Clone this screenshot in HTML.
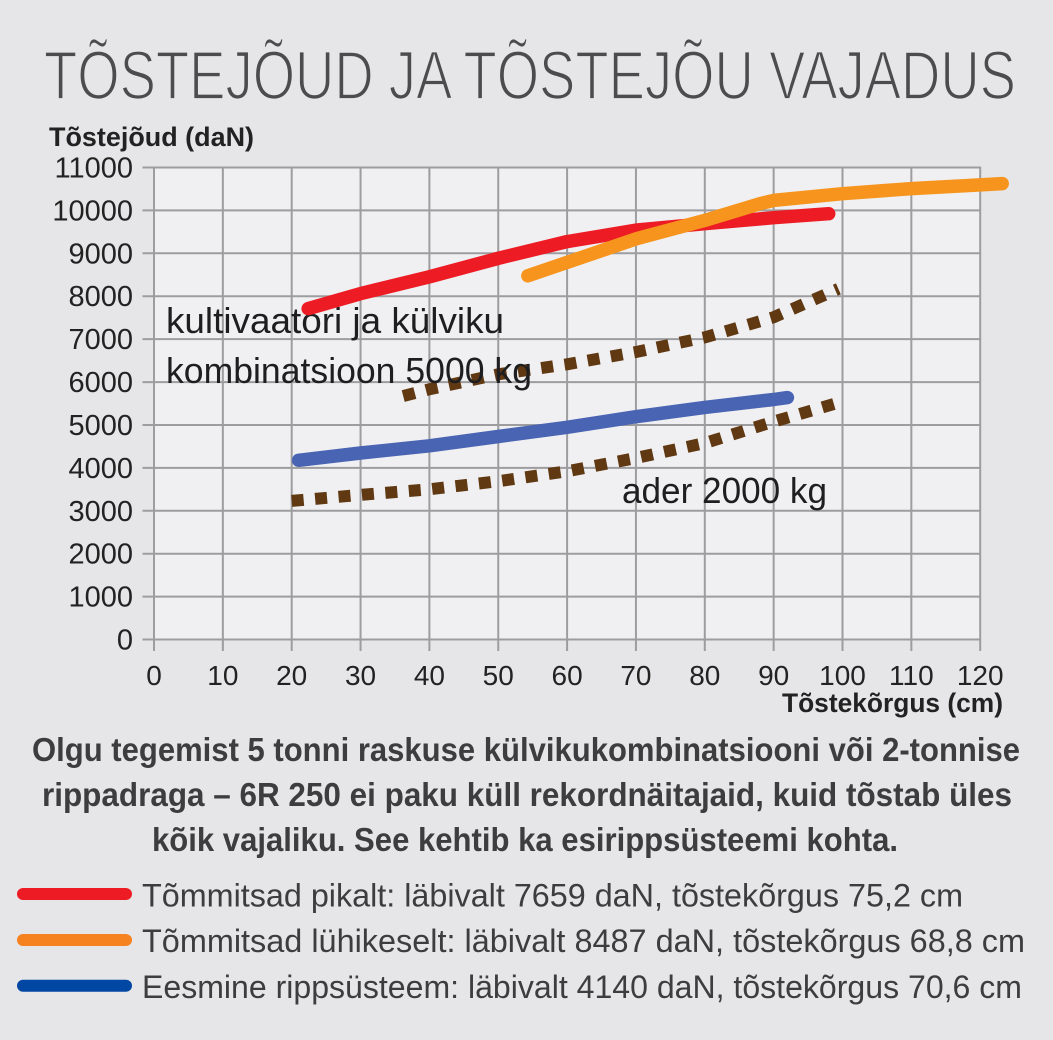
<!DOCTYPE html>
<html><head><meta charset="utf-8"><style>
html,body{margin:0;padding:0;background:#e6e6e8;}
svg{display:block;}
text{font-family:"Liberation Sans",sans-serif;}
</style></head><body>
<svg width="1053" height="1040" viewBox="0 0 1053 1040" xmlns="http://www.w3.org/2000/svg">
<rect x="0" y="0" width="1053" height="1040" fill="#e6e6e8"/>
<text x="44" y="99" font-size="69" fill="#4c4c4e" stroke="#e6e6e8" stroke-width="1.8" textLength="972" lengthAdjust="spacingAndGlyphs">TÕSTEJÕUD JA TÕSTEJÕU VAJADUS</text>
<text x="49" y="146" font-size="27" font-weight="bold" fill="#222" textLength="205" lengthAdjust="spacingAndGlyphs">Tõstejõud (daN)</text>
<rect x="154" y="167.5" width="826" height="472" fill="#f0f0f2"/>
<g stroke="#9d9d9f" stroke-width="2">
<line x1="142.5" y1="639.5" x2="981" y2="639.5"/>
<line x1="142.5" y1="596.6" x2="981" y2="596.6"/>
<line x1="142.5" y1="553.7" x2="981" y2="553.7"/>
<line x1="142.5" y1="510.8" x2="981" y2="510.8"/>
<line x1="142.5" y1="467.9" x2="981" y2="467.9"/>
<line x1="142.5" y1="425.0" x2="981" y2="425.0"/>
<line x1="142.5" y1="382.1" x2="981" y2="382.1"/>
<line x1="142.5" y1="339.1" x2="981" y2="339.1"/>
<line x1="142.5" y1="296.2" x2="981" y2="296.2"/>
<line x1="142.5" y1="253.3" x2="981" y2="253.3"/>
<line x1="142.5" y1="210.4" x2="981" y2="210.4"/>
<line x1="142.5" y1="167.5" x2="981" y2="167.5"/>
<line x1="154" y1="166.5" x2="154" y2="651"/>
<line x1="222.85" y1="166.5" x2="222.85" y2="651"/>
<line x1="291.7" y1="166.5" x2="291.7" y2="651"/>
<line x1="360.55" y1="166.5" x2="360.55" y2="651"/>
<line x1="429.4" y1="166.5" x2="429.4" y2="651"/>
<line x1="498.25" y1="166.5" x2="498.25" y2="651"/>
<line x1="567.1" y1="166.5" x2="567.1" y2="651"/>
<line x1="635.95" y1="166.5" x2="635.95" y2="651"/>
<line x1="704.8" y1="166.5" x2="704.8" y2="651"/>
<line x1="773.65" y1="166.5" x2="773.65" y2="651"/>
<line x1="842.5" y1="166.5" x2="842.5" y2="651"/>
<line x1="911.35" y1="166.5" x2="911.35" y2="651"/>
<line x1="980.2" y1="166.5" x2="980.2" y2="651"/>
</g>
<g font-size="29" fill="#222" text-anchor="end">
<text x="133" y="649.5">0</text>
<text x="133" y="606.6">1000</text>
<text x="133" y="563.7">2000</text>
<text x="133" y="520.8">3000</text>
<text x="133" y="477.9">4000</text>
<text x="133" y="435.0">5000</text>
<text x="133" y="392.1">6000</text>
<text x="133" y="349.1">7000</text>
<text x="133" y="306.2">8000</text>
<text x="133" y="263.3">9000</text>
<text x="133" y="220.4">10000</text>
<text x="133" y="177.5">11000</text>
</g>
<g font-size="28" fill="#222" text-anchor="middle">
<text x="154" y="685">0</text>
<text x="222.85" y="685">10</text>
<text x="291.7" y="685">20</text>
<text x="360.55" y="685">30</text>
<text x="429.4" y="685">40</text>
<text x="498.25" y="685">50</text>
<text x="567.1" y="685">60</text>
<text x="635.95" y="685">70</text>
<text x="704.8" y="685">80</text>
<text x="773.65" y="685">90</text>
<text x="842.5" y="685">100</text>
<text x="911.35" y="685">110</text>
<text x="980.2" y="685">120</text>
</g>
<text x="782" y="712" font-size="27" font-weight="bold" fill="#222" textLength="221" lengthAdjust="spacingAndGlyphs">Tõstekõrgus (cm)</text>
<g fill="none" stroke="#603913" stroke-width="12" stroke-dasharray="12 11.5" stroke-linejoin="round">
<polyline points="291.7,500.9 360.6,494.9 429.4,489.3 498.3,481.2 567.1,471.3 636.0,458.0 704.8,443.1 773.7,421.6 835.6,403.5"/>
<polyline points="403.2,396.1 429.4,389.3 498.3,374.3 567.1,364.3 636.0,352.0 704.8,337.4 773.7,317.2 838.4,288.9"/>
</g>
<g font-size="36" fill="#1e1e20">
<text x="166" y="333" textLength="338" lengthAdjust="spacingAndGlyphs">kultivaatori ja külviku</text>
<text x="166" y="383" textLength="366" lengthAdjust="spacingAndGlyphs">kombinatsioon 5000 kg</text>
<text x="622" y="503" textLength="205" lengthAdjust="spacingAndGlyphs">ader 2000 kg</text>
</g>
<g fill="none" stroke-width="13.5" stroke-linecap="round" stroke-linejoin="round">
<polyline stroke="#4a64b4" points="298.6,460.3 360.6,453.0 429.4,445.8 498.3,436.5 567.1,427.3 636.0,416.7 704.8,407.4 773.7,399.5 787.4,397.6"/>
<polyline stroke="#ed1c24" points="308.2,308.6 360.6,293.6 429.4,276.8 498.3,258.3 567.1,241.6 636.0,230.1 704.8,223.7 773.7,217.7 828.7,213.7"/>
<polyline stroke="#f7941d" points="527.9,275.8 567.1,262.4 636.0,238.9 704.8,220.4 759.9,203.7 773.7,200.4 842.5,193.7 911.4,188.6 980.2,184.9 1002.2,183.6"/>
</g>
<g font-size="33" font-weight="bold" fill="#3d3d3f">
<text x="32" y="761" textLength="988" lengthAdjust="spacingAndGlyphs">Olgu tegemist 5 tonni raskuse külvikukombinatsiooni või 2-tonnise</text>
<text x="42" y="806" textLength="970" lengthAdjust="spacingAndGlyphs">rippadraga – 6R 250 ei paku küll rekordnäitajaid, kuid tõstab üles</text>
<text x="152" y="851" textLength="746" lengthAdjust="spacingAndGlyphs">kõik vajaliku. See kehtib ka esirippsüsteemi kohta.</text>
</g>
<g stroke-width="12" stroke-linecap="round">
<line x1="23" y1="894" x2="126" y2="894" stroke="#ed1c24"/>
<line x1="23" y1="940" x2="126" y2="940" stroke="#f5821f"/>
<line x1="23" y1="985.7" x2="126" y2="985.7" stroke="#0047a3"/>
</g>
<g font-size="32" fill="#3d3d3f">
<text x="142" y="906.5" textLength="821" lengthAdjust="spacingAndGlyphs">Tõmmitsad pikalt: läbivalt 7659 daN, tõstekõrgus 75,2 cm</text>
<text x="142" y="952" textLength="883" lengthAdjust="spacingAndGlyphs">Tõmmitsad lühikeselt: läbivalt 8487 daN, tõstekõrgus 68,8 cm</text>
<text x="142" y="998" textLength="880" lengthAdjust="spacingAndGlyphs">Eesmine rippsüsteem: läbivalt 4140 daN, tõstekõrgus 70,6 cm</text>
</g>
</svg>
</body></html>
